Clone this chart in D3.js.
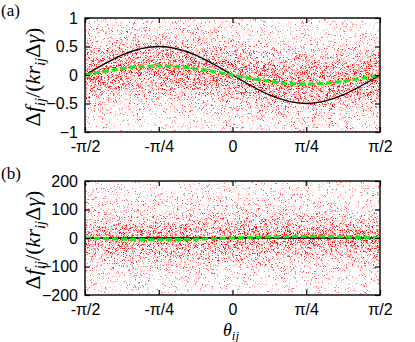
<!DOCTYPE html>
<html>
<head>
<meta charset="utf-8">
<script src="https://cdn.jsdelivr.net/npm/d3@7"></script>
<style>
body { margin: 0; background: #fff; }
.tick text { font-family: "Liberation Sans", Arial, sans-serif; font-size: 16px; fill: #000; }
.lab { font-family: "Liberation Serif", "Times New Roman", serif; fill: #000; }
</style>
</head>
<body>
<svg id="fig" width="415" height="342"></svg>
<script>
// angle axis
var thetaTicks = [-1.5708, -0.7854, 0, 0.7854, 1.5708];
var thetaLabels = ["-\u03c0/2", "-\u03c0/4", "0", "\u03c0/4", "\u03c0/2"];
var thetaPts = [-1.5708, -1.1781, -0.7854, -0.3927, 0, 0.3927, 0.7854, 1.1781, 1.5708];

// panel (a)
var yTicksA = [-1, -0.5, 0, 0.5, 1];
var blackA = [0, 0.35, 0.5, 0.35, 0, -0.35, -0.5, -0.35, 0];
var greenA = [0, 0.11, 0.16, 0.11, 0, -0.11, -0.16, -0.11, 0];
var cloudSpreadA = [0, 0.15, 0.3, 0.45, 0.6, 0.8, 1.0, 1.3];
var cloudDensA = [0.62, 0.56, 0.45, 0.32, 0.22, 0.16, 0.12, 0.09];

// panel (b)
var yTicksB = [-200, -100, 0, 100, 200];
var blackB = [0, 0, 0, 0, 0, 0, 0, 0, 0];
var greenB = [0, -4, -6, -4, 0, 4, 6, 4, 0];
var cloudSpreadB = [0, 25, 50, 80, 110, 150, 200, 240];
var cloudDensB = [0.62, 0.52, 0.4, 0.28, 0.2, 0.15, 0.11, 0.09];

var svg = d3.select("#fig");
var left = 85, right = 380;

function hash(i, j, s) {
    var h = (i * 374761393 + j * 668265263 + s * 1442695041) | 0;
    h = Math.imul(h ^ (h >>> 13), 1274126177);
    h = h ^ (h >>> 16);
    return (h >>> 0) / 4294967296;
}

// dot cloud as a dithered density field in data coordinates
function drawCloud(g, x, y, center, spread, dens, seed) {
    var x0 = x.range()[0], y0 = y.range()[1];
    var w = x.range()[1] - x0, h = y.range()[0] - y0;
    var cv = document.createElement("canvas");
    cv.width = w; cv.height = h;
    var ctx = cv.getContext("2d");
    var img = ctx.createImageData(w, h);
    var dScale = d3.scaleLinear(spread, dens).clamp(true);
    for (var j = 0; j < h; j++) {
        for (var i = 0; i < w; i++) {
            var t = x.invert(x0 + i + 0.5), v = y.invert(y0 + j + 0.5);
            var p = dScale(Math.abs(v - center(t)));
            if (hash(i, j, seed) < p) {
                var r = hash(i, j, seed + 7);
                var a = Math.min(1, (0.08 + 0.55 * r * r) * (1 + 1.5 * p));
                var k = (j * w + i) * 4;
                img.data[k] = 255;
                img.data[k + 1] = Math.round(255 * (1 - a));
                img.data[k + 2] = Math.round(255 * (1 - a));
                img.data[k + 3] = 255;
            }
        }
    }
    ctx.putImageData(img, 0, 0);
    g.append("image")
        .attr("x", x0).attr("y", y0)
        .attr("width", w).attr("height", h)
        .style("image-rendering", "pixelated")
        .attr("href", cv.toDataURL());
}

function panel(top, bottom, yTicks, black, green, spread, dens, seed, tag) {
    var x = d3.scaleLinear().domain([-1.5708, 1.5708]).range([left, right]);
    var y = d3.scaleLinear().domain([yTicks[0], yTicks[yTicks.length - 1]]).range([bottom, top]);
    var g = svg.append("g");
    var center = d3.scaleLinear(thetaPts, green);
    drawCloud(g, x, y, center, spread, dens, seed);

    var line = d3.line()
        .x(function(d, i) { return x(thetaPts[i]); })
        .y(function(d) { return y(d); })
        .curve(d3.curveNatural);
    g.append("path").datum(black).attr("d", line)
        .attr("fill", "none").attr("stroke", "#000").attr("stroke-width", 1.3);
    g.append("path").datum(green).attr("d", line)
        .attr("fill", "none").attr("stroke", "#11ee11").attr("stroke-width", 3)
        .attr("stroke-dasharray", "6,3");

    g.append("g").attr("transform", "translate(0," + bottom + ")")
        .call(d3.axisBottom(x).tickValues(thetaTicks)
              .tickFormat(function(d, i) { return thetaLabels[i]; })
              .tickSize(-5).tickSizeOuter(0).tickPadding(9));
    g.append("g").attr("transform", "translate(0," + top + ")")
        .call(d3.axisTop(x).tickValues(thetaTicks).tickFormat("").tickSize(-5).tickSizeOuter(0));
    g.append("g").attr("transform", "translate(" + left + ",0)")
        .call(d3.axisLeft(y).tickValues(yTicks).tickFormat(d3.format("")).tickSize(-5).tickSizeOuter(0).tickPadding(7));
    g.append("g").attr("transform", "translate(" + right + ",0)")
        .call(d3.axisRight(y).tickValues(yTicks).tickFormat("").tickSize(-5).tickSizeOuter(0));
    g.selectAll(".domain").remove();
    g.selectAll(".tick line").attr("stroke", "#000").attr("stroke-width", 1.2);

    g.append("rect").attr("x", left).attr("y", top)
        .attr("width", right - left).attr("height", bottom - top)
        .attr("fill", "none").attr("stroke", "#000").attr("stroke-width", 1.4);

    g.append("text").attr("class", "lab").attr("x", 1).attr("y", top - 2)
        .style("font-size", "17px").text(tag);

    var yl = g.append("text").attr("class", "lab")
        .attr("transform", "translate(40," + ((top + bottom) / 2 + 2) + ") rotate(-90)")
        .attr("text-anchor", "middle").style("font-size", "22px");
    yl.append("tspan").text("\u0394");
    yl.append("tspan").style("font-style", "italic").text("f");
    yl.append("tspan").style("font-style", "italic").style("font-size", "15px").attr("dy", 5).text("ij");
    yl.append("tspan").attr("dy", -5).text("/(");
    yl.append("tspan").style("font-style", "italic").text("kr");
    yl.append("tspan").style("font-style", "italic").style("font-size", "15px").attr("dy", 5).text("ij");
    yl.append("tspan").attr("dy", -5).text("\u0394");
    yl.append("tspan").style("font-style", "italic").text("\u03b3");
    yl.append("tspan").text(")");
}

panel(18, 132, yTicksA, blackA, greenA, cloudSpreadA, cloudDensA, 11, "(a)");
panel(181, 295, yTicksB, blackB, greenB, cloudSpreadB, cloudDensB, 29, "(b)");

var xl = svg.append("text").attr("class", "lab")
    .attr("x", 231).attr("y", 336).attr("text-anchor", "middle").style("font-size", "18px");
xl.append("tspan").style("font-style", "italic").text("\u03b8");
xl.append("tspan").style("font-style", "italic").style("font-size", "13px").attr("dy", 4).text("ij");
</script>
</body>
</html>
